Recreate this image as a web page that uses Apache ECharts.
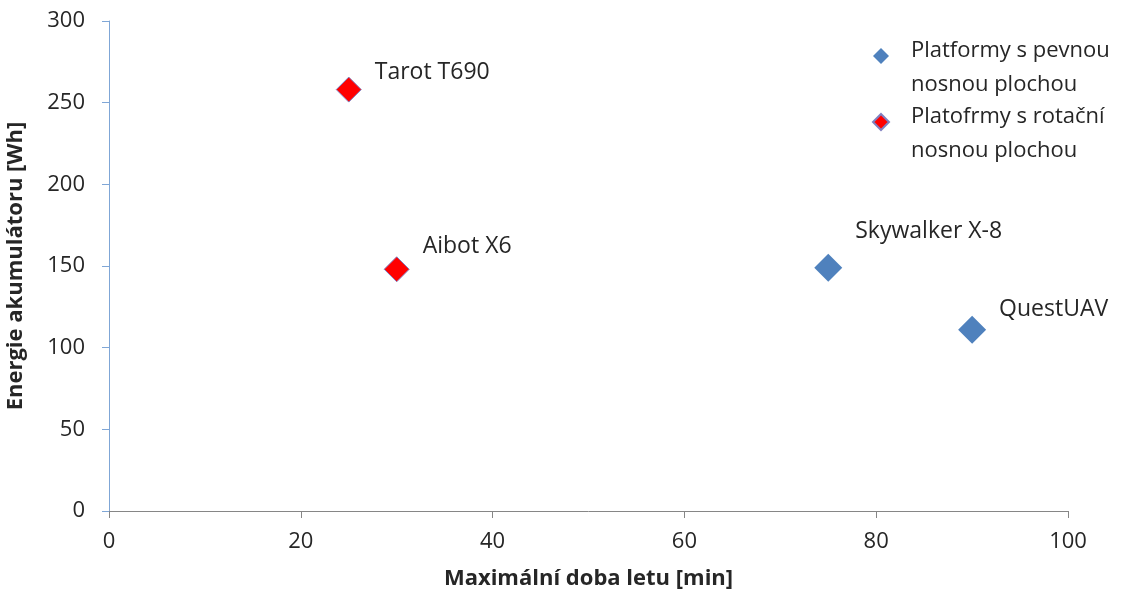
<!DOCTYPE html>
<html><head><meta charset="utf-8">
<script src="https://cdn.jsdelivr.net/npm/echarts@6/dist/echarts.min.js"></script>
<style>html,body{margin:0;padding:0;background:#fff}#c{width:1137px;height:593px}</style>
</head><body><div id="c"></div>
<script>
const fixedNames = ["Skywalker X-8", "QuestUAV"];
const fixedTime = [75, 90];
const fixedEnergy = [149, 111];
const rotorNames = ["Tarot T690", "Aibot X6"];
const rotorTime = [25, 30];
const rotorEnergy = [258, 148];
const seriesNames = ["Platformy s pevnou nosnou plochou", "Platofrmy s rotační nosnou plochou"];
const legendLines = ["Platformy s pevnou\nnosnou plochou", "Platofrmy s rotační\nnosnou plochou"];
const xTicks = [0, 20, 40, 60, 80, 100];
const yTicks = [0, 50, 100, 150, 200, 250, 300];

const FONT = "'Open Sans', sans-serif";
const TXT = '#262626';
const fixedOffsets = [[8, -36], [8, -20]];
const rotorOffsets = [[8, -17], [8, -23]];
// diamond drawn at top of a 16x40 icon box so the legend text sits lower than the marker
const LEGEND_ICON = 'path://M8,0L16,8L8,16L0,8Z M8,40L8,40';

function build(names, xs, ys, offs) {
  return names.map((n, i) => ({
    name: n, value: [xs[i], ys[i]],
    label: { offset: offs[i] }
  }));
}

const chart = echarts.init(document.getElementById('c'));
chart.setOption({
  animation: false,
  grid: { left: 109, right: 69, top: 21, bottom: 82, outerBoundsMode: 'none', containLabel: false },
  legend: {
    left: 872, top: 34, padding: 0, orient: 'vertical', itemGap: -2,
    itemWidth: 16, itemHeight: 40,
    data: [{ name: seriesNames[0], icon: LEGEND_ICON }, { name: seriesNames[1], icon: LEGEND_ICON }],
    formatter: n => legendLines[seriesNames.indexOf(n)],
    textStyle: { fontFamily: FONT, fontSize: 22, color: TXT, lineHeight: 34, padding: [0, 0, 0, 17] }
  },
  xAxis: {
    type: 'value', min: xTicks[0], max: xTicks[xTicks.length - 1], interval: 20,
    name: 'Maximální doba letu [min]', nameLocation: 'middle', nameGap: 57,
    nameTextStyle: { fontFamily: FONT, fontSize: 22, fontWeight: 'bold', color: TXT },
    axisLine: { show: true, lineStyle: { color: '#868686', width: 1 } },
    axisTick: { show: true, length: 7, lineStyle: { color: '#868686' } },
    axisLabel: { fontFamily: FONT, fontSize: 22, color: TXT, margin: 20 },
    splitLine: { show: false }
  },
  yAxis: {
    type: 'value', min: yTicks[0], max: yTicks[yTicks.length - 1], interval: 50,
    name: 'Energie akumulátoru [Wh]', nameLocation: 'middle', nameGap: 82, nameRotate: 90,
    nameTextStyle: { fontFamily: FONT, fontSize: 22, fontWeight: 'bold', color: TXT },
    axisLine: { show: true, lineStyle: { color: '#7FA6D6', width: 1 } },
    axisTick: { show: true, length: 7, lineStyle: { color: '#7FA6D6' } },
    axisLabel: { fontFamily: FONT, fontSize: 22, color: TXT, margin: 24 },
    splitLine: { show: false }
  },
  series: [
    {
      name: seriesNames[0], type: 'scatter', symbol: 'diamond', symbolSize: 28,
      itemStyle: { color: '#4F81BD', opacity: 1 },
      label: { show: true, position: 'right', formatter: p => p.name, fontFamily: FONT, fontSize: 23, color: TXT },
      data: build(fixedNames, fixedTime, fixedEnergy, fixedOffsets)
    },
    {
      name: seriesNames[1], type: 'scatter', symbol: 'diamond', symbolSize: 25,
      itemStyle: { color: '#FF0000', borderColor: '#8080C0', borderWidth: 1, opacity: 1 },
      label: { show: true, position: 'right', formatter: p => p.name, fontFamily: FONT, fontSize: 23, color: TXT },
      data: build(rotorNames, rotorTime, rotorEnergy, rotorOffsets)
    }
  ]
});
</script></body></html>
